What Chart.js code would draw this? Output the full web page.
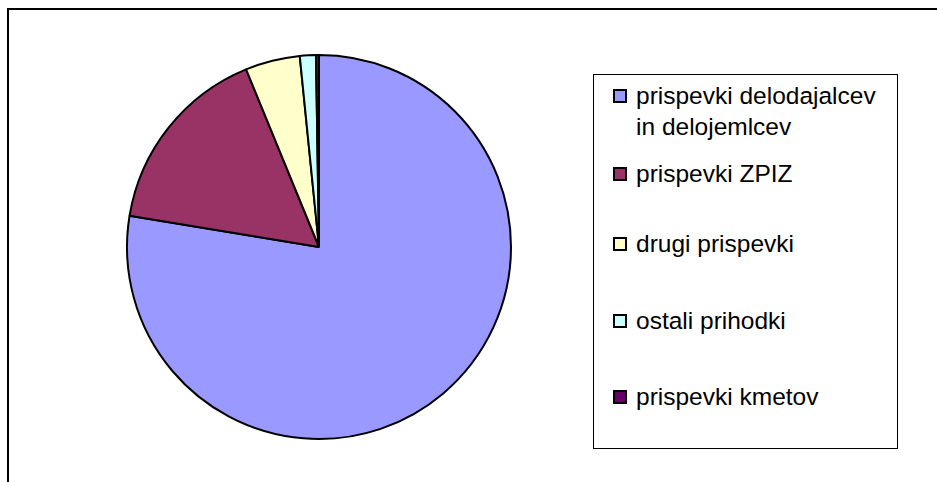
<!DOCTYPE html>
<html>
<head>
<meta charset="utf-8">
<script src="https://cdn.jsdelivr.net/npm/chart.js@4"></script>
<style>
  body { margin: 0; background: #fff; }
  #wrap { position: relative; width: 937px; height: 482px; overflow: hidden; font-family: "Liberation Sans", Arial, sans-serif; }
  #chart { position: absolute; left: 0; top: 0; }
  #frame { position: absolute; left: 7px; top: 8px; width: 1000px; height: 1000px; border-left: 2px solid #000; border-top: 2px solid #000; }
  #legend { position: absolute; left: 593px; top: 74px; width: 303px; height: 373px; border: 1px solid #000; background: #fff; }
  .item { position: absolute; left: 0; width: 300px; }
  .mark { position: absolute; left: 19px; width: 10px; height: 10px; border: 2px solid #000; }
  .txt { position: absolute; left: 42px; font-size: 24.5px; line-height: 31px; color: #000; white-space: nowrap; }
</style>
</head>
<body>
<div id="wrap">
  <div id="frame"></div>
  <canvas id="chart" width="937" height="482"></canvas>
  <div id="legend"></div>
</div>
<script>
// podatki
const labels = [
  ['prispevki delodajalcev', 'in delojemlcev'],
  ['prispevki ZPIZ'],
  ['drugi prispevki'],
  ['ostali prihodki'],
  ['prispevki kmetov']
];
const values = [77.6, 16.2, 4.6, 1.35, 0.25];
const colors = ['#9999FF', '#993366', '#FFFFCC', '#CCFFFF', '#660066'];

// legenda (vrstice, y sredine oznak)
const legendRowY = [96, 174, 244, 321, 397];
const legend = document.getElementById('legend');
labels.forEach((lines, i) => {
  const y = legendRowY[i] - 75;
  const item = document.createElement('div');
  item.className = 'item';
  item.innerHTML = `<span class="mark" style="top:${y - 7}px;background:${colors[i]}"></span>` +
    `<span class="txt" style="top:${y - 16}px">${lines.join('<br>')}</span>`;
  legend.appendChild(item);
});

new Chart(document.getElementById('chart').getContext('2d'), {
  type: 'pie',
  data: {
    labels: labels.map(l => l.join(' ')),
    datasets: [{
      data: values,
      backgroundColor: colors,
      borderColor: '#000',
      borderWidth: 2
    }]
  },
  options: {
    responsive: false,
    animation: false,
    layout: { padding: { left: 126, top: 54, right: 425, bottom: 42 } },
    plugins: {
      legend: { display: false },
      tooltip: { enabled: false }
    }
  }
});
</script>
</body>
</html>
